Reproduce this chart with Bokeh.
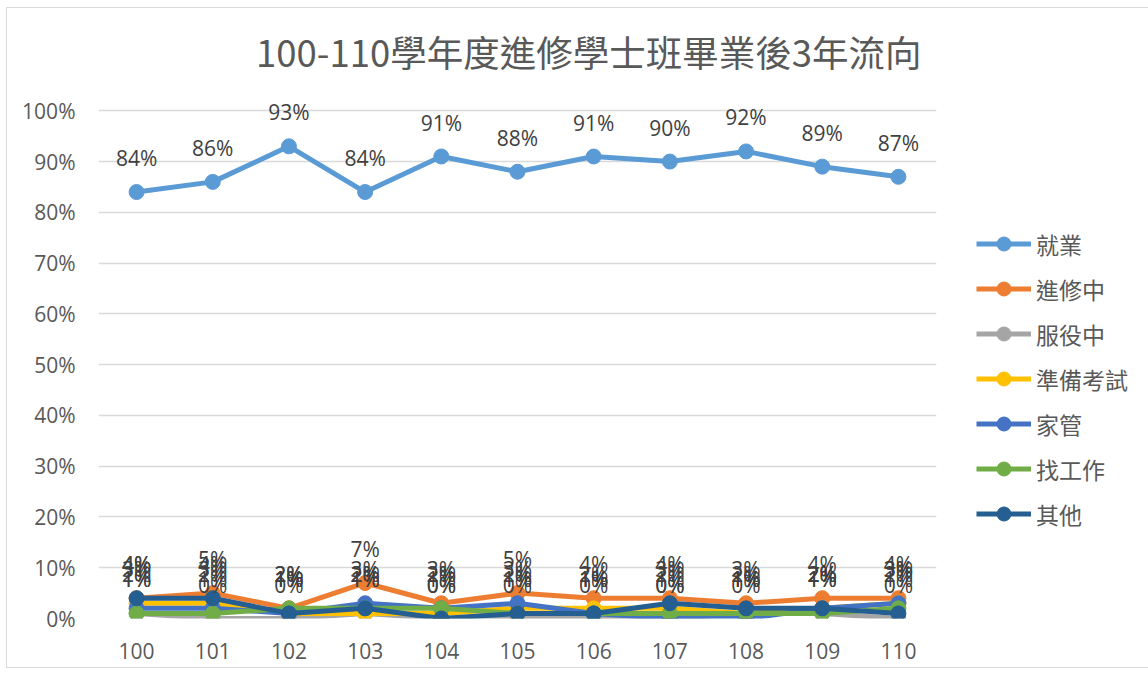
from bokeh.plotting import figure
from bokeh.models import ColumnDataSource, FactorRange, FixedTicker, PrintfTickFormatter, Legend, LegendItem, Title
from bokeh.core.properties import value
from bokeh.embed import file_html
from bokeh.resources import INLINE

years = ["100", "101", "102", "103", "104", "105", "106", "107", "108", "109", "110"]
employed = [84, 86, 93, 84, 91, 88, 91, 90, 92, 89, 87]
studying = [4, 5, 2, 7, 3, 5, 4, 4, 3, 4, 4]
military = [1, 0, 0, 1, 0, 0, 0, 0, 1, 1, 0]
exam_prep = [3, 3, 1, 1, 1, 2, 2, 2, 1, 2, 3]
homemaker = [2, 2, 1, 3, 2, 3, 1, 0, 0, 2, 3]
job_seeking = [1, 1, 2, 2, 2, 1, 1, 1, 1, 1, 2]
other = [4, 4, 1, 2, 0, 1, 1, 3, 2, 2, 1]

series_names = ["就業", "進修中", "服役中", "準備考試", "家管", "找工作", "其他"]
series_values = [employed, studying, military, exam_prep, homemaker, job_seeking, other]
series_colors = ["#5B9BD5", "#ED7D31", "#A5A5A5", "#FFC000", "#4472C4", "#70AD47", "#255E91"]
y_ticks = list(range(0, 101, 10))

TXT = "#595959"
# y range extends slightly above 100% so the top data label is not clipped
p = figure(x_range=FactorRange(*years, range_padding=0), y_range=(0, 104),
           frame_width=838, frame_height=528, output_backend="svg", toolbar_location=None,
           min_border_left=91, min_border_right=201, min_border_top=82, min_border_bottom=49)
p.styles = {"border": "1px solid #d9d9d9", "margin-left": "6px", "margin-top": "7px"}
p.outline_line_color = None
p.xgrid.grid_line_color = None
p.ygrid.grid_line_color = "#D9D9D9"
p.ygrid.grid_line_width = 1.3
p.yaxis.ticker = FixedTicker(ticks=y_ticks)
p.yaxis.formatter = PrintfTickFormatter(format="%d%%")
for ax in (p.xaxis[0], p.yaxis[0]):
    ax.axis_line_color = None
    ax.major_tick_line_color = None
    ax.minor_tick_line_color = None
    ax.major_label_text_font = "Open Sans"
    ax.major_label_text_font_size = "21px"
    ax.major_label_text_color = TXT
p.xaxis.major_label_standoff = 18
p.yaxis.major_label_standoff = 17

spacer = Title(text=" ", text_font_size="10px", standoff=0)
p.add_layout(spacer, "above")
title = Title(text="100-110學年度進修學士班畢業後3年流向", align="right", offset=15,
              text_font="Noto Sans CJK TC", text_font_size="36.5px", text_font_style="normal",
              text_color=TXT, standoff=0)
p.add_layout(title, "above")

items = []
for name, vals, col in zip(series_names, series_values, series_colors):
    src = ColumnDataSource(dict(x=years, y=vals))
    lr = p.line("x", "y", source=src, line_color=col, line_width=5)
    sr = p.scatter("x", "y", source=src, size=15, fill_color=col, line_color=col)
    items.append(LegendItem(label=name, renderers=[lr, sr]))

for vals in series_values:
    src = ColumnDataSource(dict(x=years, y=vals, t=[f"{v}%" for v in vals]))
    p.text("x", "y", text="t", source=src, text_font=value("Open Sans"), text_font_size="21px",
           text_color="#404040", text_align="center", text_baseline="middle", y_offset=-34)

legend = Legend(items=items, location=(40, 87), glyph_width=55, glyph_height=35,
                label_height=20, spacing=10, label_standoff=5, padding=0, margin=0,
                label_text_font="Noto Sans CJK TC", label_text_font_size="23px",
                label_text_color=TXT, border_line_color=None, background_fill_alpha=0)
p.add_layout(legend, "right")

open("out.html", "w").write(file_html(p, INLINE))
